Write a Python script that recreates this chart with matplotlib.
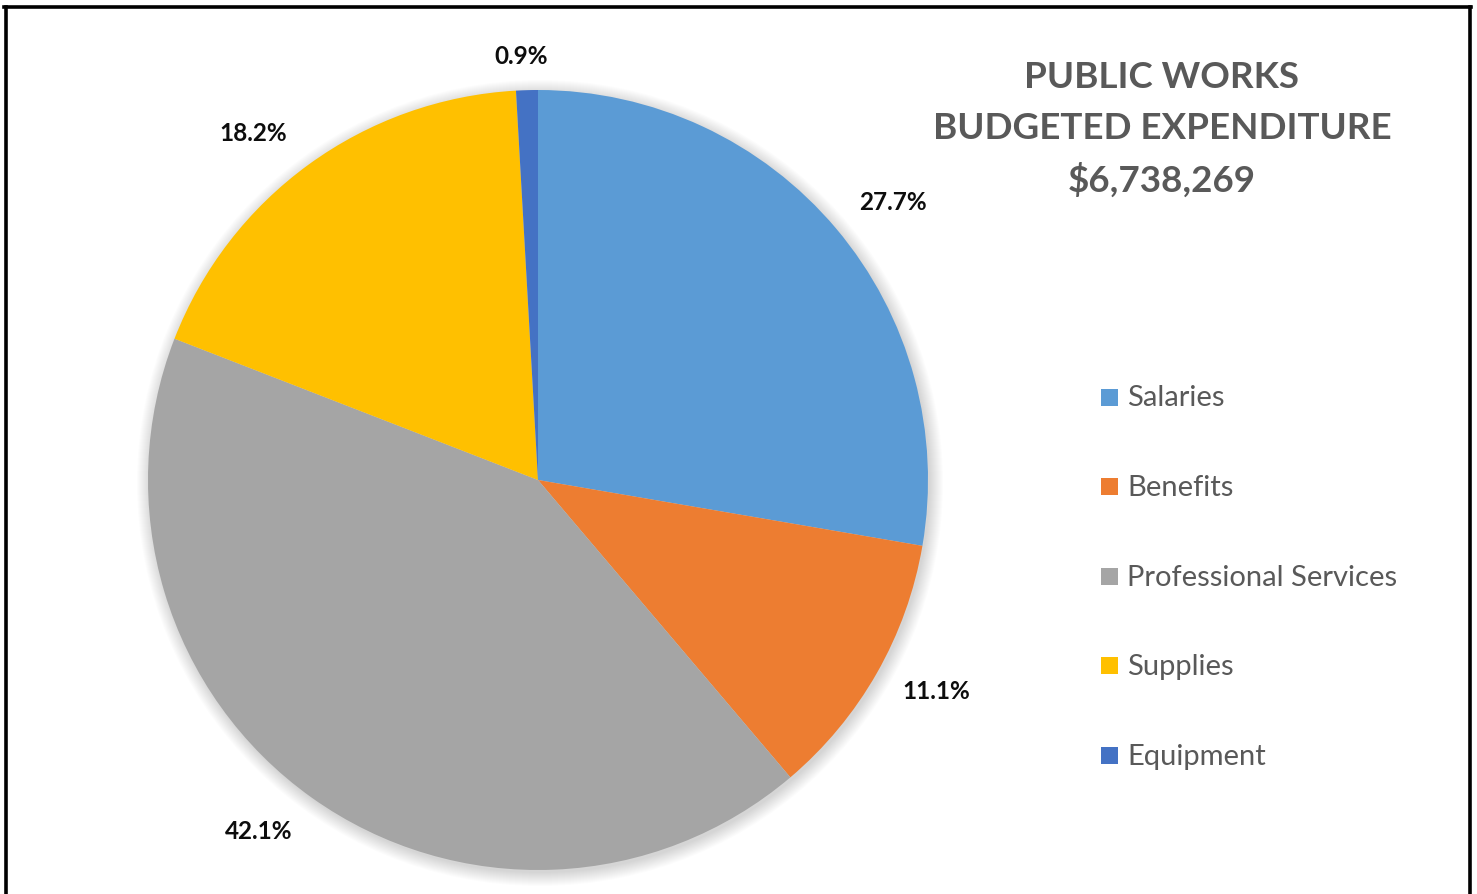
import numpy as np
import matplotlib
matplotlib.use("Agg")
import matplotlib.pyplot as plt
from matplotlib.patches import Circle, Rectangle
from matplotlib.lines import Line2D

# Budget shares (percent of total)
categories = ["Salaries", "Benefits", "Professional Services", "Supplies", "Equipment"]
shares = [27.7, 11.1, 42.1, 18.2, 0.9]
colors = ["#5B9BD5", "#ED7D31", "#A5A5A5", "#FFC000", "#4472C4"]
title_lines = ["PUBLIC WORKS", "BUDGETED EXPENDITURE", "$6,738,269"]

W, H = 1477, 894
fig = plt.figure(figsize=(W / 100, H / 100), dpi=100)
fig.patch.set_facecolor("white")
ax = fig.add_axes([0, 0, 1, 1])

cx, cy, R = 538, H - 480, 390

# soft drop shadow behind the pie
for k in range(14):
    ax.add_patch(Circle((cx + 2, cy - 3), R + 13 - k, color="#000000",
                        alpha=0.011, lw=0, zorder=1))

wedges, _ = ax.pie(shares, colors=colors, startangle=90, counterclock=False,
                   center=(cx, cy), radius=R, frame=False,
                   wedgeprops=dict(linewidth=0))
for w in wedges:
    w.set_zorder(2)
ax.set_xlim(0, W)
ax.set_ylim(0, H)
ax.set_aspect("equal")
ax.axis("off")

# percentage labels outside each slice (radial distance, angular nudge in degrees)
label_dist = [1.154, 1.156, 1.151, 1.151, 1.087]
label_nudge = [2.1, -1.7, 3.1, -3.4, -0.6]
cum = np.cumsum([0] + shares)
for i, v in enumerate(shares):
    mid = 90 - ((cum[i] + v / 2) * 3.6 + label_nudge[i])
    th = np.deg2rad(mid)
    ax.text(cx + R * label_dist[i] * np.cos(th), cy + R * label_dist[i] * np.sin(th),
            f"{v:.1f}%", ha="center", va="center", fontsize=17.5,
            fontweight="bold", family="Lato", color="#0D0D0D", zorder=5)

# title block
for j, line in enumerate(title_lines):
    ax.text(1162, H - (77 + j * 51.5), line, ha="center", va="center",
            fontsize=26.5, fontweight="bold", family="Lato", color="#595959")

# legend
for j, (name, c) in enumerate(zip(categories, colors)):
    y = H - (397 + j * 89.5)
    ax.add_patch(Rectangle((1101, y - 8.5), 17, 17, color=c, lw=0))
    ax.text(1127, y - 1.5, name, ha="left", va="center", fontsize=21,
            family="Lato", color="#595959")

# frame lines
ax.add_line(Line2D([5.5, 5.5], [0, H - 7], color="black", lw=2.6))
ax.add_line(Line2D([4.2, 1470.8], [H - 7, H - 7], color="black", lw=2.6))
ax.add_line(Line2D([1469.5, 1469.5], [0, H - 7], color="black", lw=2.6))

fig.savefig("out.png", dpi=100, facecolor="white")
